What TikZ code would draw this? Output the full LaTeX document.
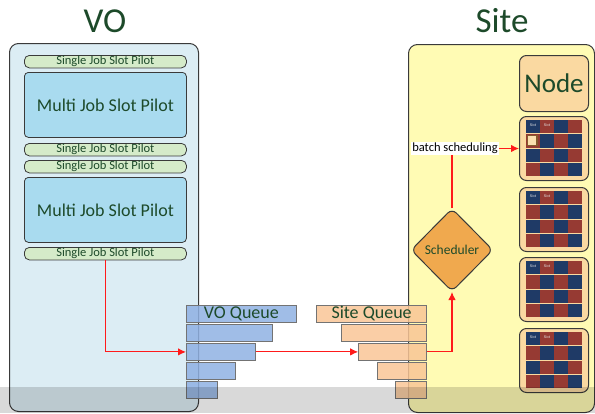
\documentclass[tikz,border=0pt]{standalone}
\usepackage{fontspec}
\setmainfont{Carlito}
\usetikzlibrary{shapes.geometric,arrows.meta}
\definecolor{txtgreen}{HTML}{1D4A2A}
\definecolor{vofill}{HTML}{DCEDF4}
\definecolor{sitefill}{HTML}{FFFBB4}
\definecolor{singlefill}{HTML}{D5EBC9}
\definecolor{multifill}{HTML}{A9DBEF}
\definecolor{nodefill}{HTML}{FAD9A1}
\definecolor{schedfill}{HTML}{F0A94E}
\definecolor{voqfill}{HTML}{8FB1E3}
\definecolor{siteqfill}{HTML}{F9C596}
\definecolor{cellblue}{HTML}{1F3A66}
\definecolor{cellred}{HTML}{963A33}
\definecolor{edge}{HTML}{3A3A3A}
\definecolor{arrowred}{HTML}{FF1A1A}
\tikzset{
  title/.style={font=\fontsize{35}{35}\selectfont, text=txtgreen},
  panel/.style={draw=edge, line width=1pt, rounded corners=9pt, anchor=north west, inner sep=0pt},
  single/.style={draw=edge, line width=0.8pt, fill=singlefill, rounded corners=5pt, anchor=north west,
    minimum width=162pt, minimum height=12.5pt, inner sep=0pt, text=txtgreen,
    font=\fontsize{12.5}{12.5}\selectfont},
  multi/.style={draw=edge, line width=0.8pt, fill=multifill, rounded corners=4pt, anchor=north west,
    minimum width=162pt, minimum height=65pt, inner sep=0pt, text=txtgreen,
    font=\fontsize{18}{18}\selectfont},
  voq/.style={draw=black!55, line width=0.8pt, fill=voqfill, fill opacity=0.85, text opacity=1,
    anchor=north west, minimum height=17pt, inner sep=0pt, text=txtgreen,
    font=\fontsize{18}{18}\selectfont},
  siteq/.style={draw=black!55, line width=0.8pt, fill=siteqfill, fill opacity=0.85, text opacity=1,
    anchor=north east, minimum height=17pt, inner sep=0pt, text=txtgreen,
    font=\fontsize{18}{18}\selectfont},
  nodebox/.style={draw=edge, line width=1pt, fill=nodefill, rounded corners=7pt, anchor=north west,
    minimum width=69pt, inner sep=0pt},
  redarrow/.style={draw=arrowred, line width=1.1pt, -{Latex[length=8pt,width=7.5pt]}},
  redline/.style={draw=arrowred, line width=1.1pt},
  slotlabel/.style={font=\fontsize{4}{4}\selectfont, text=white!80!gray, inner sep=0pt},
}
\begin{document}
\begin{tikzpicture}[x=1pt,y=-1pt]
\useasboundingbox (0,0) rectangle (595,413);
\clip (0,0) rectangle (595,413);

% titles
\node[title] (votitle) at (105,21) {VO};
\node[title] (sitetitle) at (502,21) {Site};

% the two panels
\node[panel, fill=vofill, minimum width=189pt, minimum height=368pt] (vo) at (9,43) {};
\node[panel, fill=sitefill, minimum width=186pt, minimum height=368pt] (site) at (408,44) {};

% pilots of the VO
\node[single] (s1) at (24,55) {Single Job Slot Pilot};
\node[multi]  (m1) at (24,72) {Multi Job Slot Pilot};
\node[single] (s2) at (24,143) {Single Job Slot Pilot};
\node[single] (s3) at (24,160) {Single Job Slot Pilot};
\node[multi]  (m2) at (24,177) {Multi Job Slot Pilot};
\node[single] (s4) at (24,247) {Single Job Slot Pilot};

% VO queue
\node[voq, minimum width=110pt] (vq1) at (186,305) {VO Queue};
\node[voq, minimum width=86pt]  (vq2) at (186,324) {};
\node[voq, minimum width=69pt]  (vq3) at (186,343) {};
\node[voq, minimum width=49pt]  (vq4) at (186,362) {};
\node[voq, minimum width=31pt]  (vq5) at (186,381) {};

% site queue
\node[siteq, minimum width=110pt] (sq1) at (427,305) {Site Queue};
\node[siteq, minimum width=85pt]  (sq2) at (427,324) {};
\node[siteq, minimum width=68pt]  (sq3) at (427,343) {};
\node[siteq, minimum width=49pt]  (sq4) at (427,362) {};
\node[siteq, minimum width=31pt]  (sq5) at (427,381) {};

% scheduler
\node[diamond, draw=edge, line width=1pt, fill=schedfill, rounded corners=6pt,
      minimum width=82pt, minimum height=83pt, inner sep=0pt, text=txtgreen,
      font=\fontsize{13.5}{13.5}\selectfont] (sched) at (452,250) {Scheduler};

% worker node
\node[nodebox, minimum height=56pt, text=txtgreen, font=\fontsize{27}{27}\selectfont] (node) at (519,55) {Node};

% job slot grids
\foreach \gy [count=\k] in {116,187,257,328} {
  \node[nodebox, minimum height=64pt] (g\k) at (519,\gy) {};
  \foreach \r in {0,...,3} {
    \foreach \c in {0,...,3} {
      \pgfmathtruncatemacro\cellpar{mod(\r+\c,2)}
      \ifnum\cellpar=0 \def\cellcol{cellblue}\else\def\cellcol{cellred}\fi
      \fill[\cellcol] (526+\c*14, \gy+4+\r*14.3) rectangle ++(14,13.3);
    }
  }
  \node[slotlabel] (sla\k) at (533,\gy+9) {Slot};
  \node[slotlabel] (slb\k) at (547,\gy+9) {Slot};
}
% free slot in the first node
\draw[draw=brown!70!black, line width=1.3pt, fill=nodefill!85!white] (527.5,135.5) rectangle (537,145.5);

% connectors
\draw[redarrow] (s4.south) |- (vq3.west);
\draw[redarrow] (vq3.east) -- (sq3.west);
\draw[redarrow] (sq3.east) -| (sched.south);
\node[fill=white, inner sep=1pt, font=\fontsize{12.5}{12.5}\selectfont] (batch) at (455,148.5) {batch scheduling};
\draw[redline] (sched.north) -- (sched.north |- batch.south);
\draw[redarrow] (batch.east) -- (batch.east -| g1.west);

% shaded strip along the bottom
\fill[black, opacity=0.15] (0,387) rectangle (595,413);
\end{tikzpicture}
\end{document}
